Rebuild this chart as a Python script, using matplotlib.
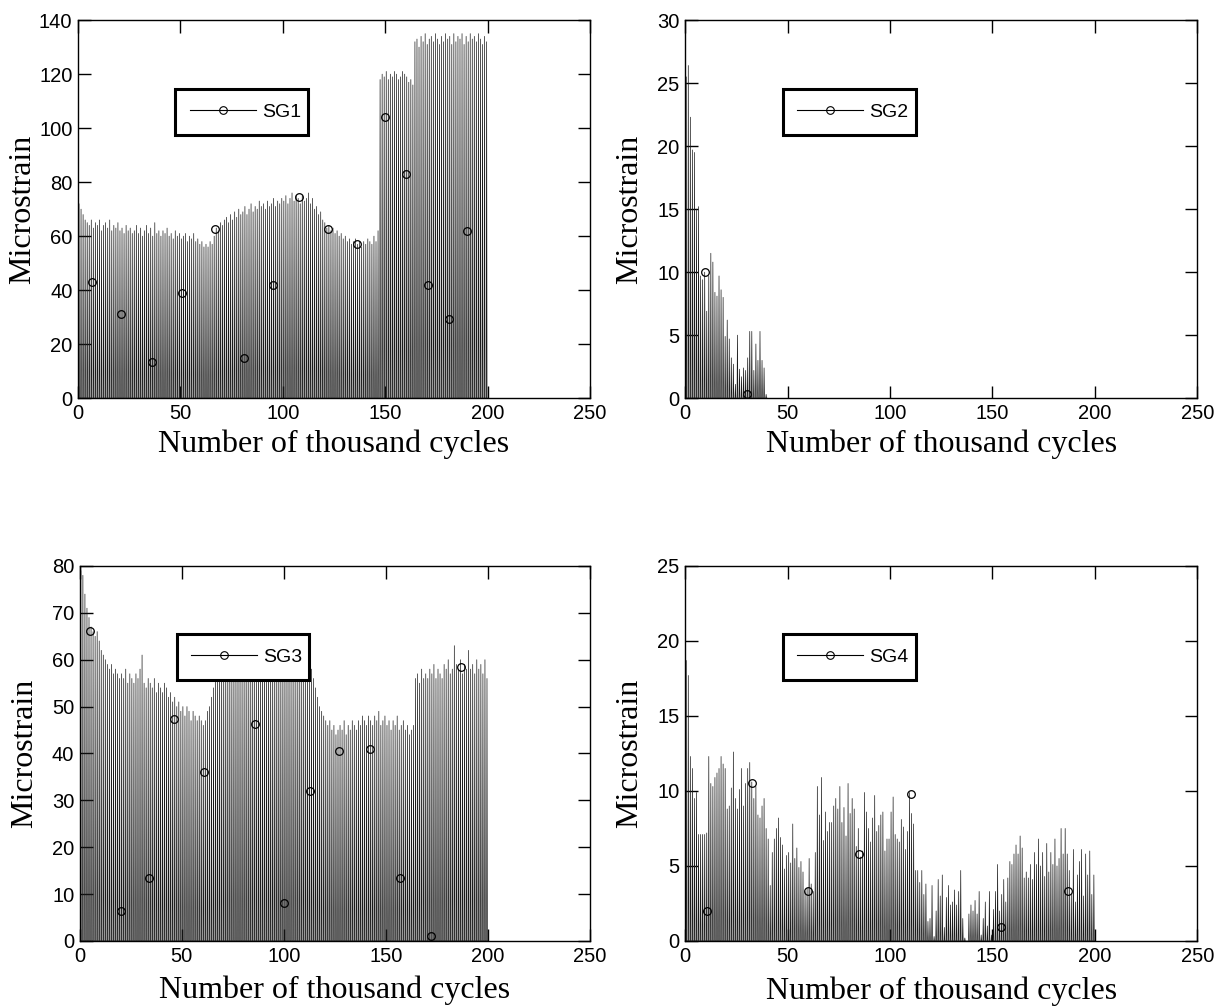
# Strain gauge readings vs load cycles (SG1-SG4)

import numpy as np
import matplotlib
matplotlib.use('Agg')
import matplotlib.pyplot as plt
from matplotlib.lines import Line2D

# Peak microstrain of each thousand-cycle block (the trace drops back to 0 between peaks)

sg1_peaks = [72, 70, 68, 66, 65, 64, 66, 63, 65, 64, 66, 62, 64, 65, 63, 66, 62, 64, 63, 65,
             62, 63, 61, 64, 62, 63, 61, 62, 64, 61, 63, 60, 62, 64, 61, 63, 60, 65, 61, 62,
             60, 62, 61, 63, 60, 61, 59, 62, 60, 61, 59, 60, 61, 58, 60, 59, 61, 58, 59, 57,
             58, 56, 57, 56, 58, 57, 60, 63, 62, 65, 64, 66, 67, 65, 68, 66, 69, 67, 70, 68,
             69, 71, 68, 70, 72, 69, 71, 70, 73, 71, 72, 70, 73, 71, 72, 74, 71, 73, 72, 74,
             73, 75, 72, 74, 76, 73, 75, 74, 72, 75, 73, 74, 76, 72, 74, 70, 71, 68, 69, 66,
             65, 63, 64, 62, 63, 61, 62, 60, 61, 59, 60, 58, 59, 57, 58, 59, 57, 58, 56, 58,
             57, 59, 58, 57, 60, 58, 62, 118, 120, 119, 121, 118, 120, 119, 121, 120, 118, 119, 121, 120,
             119, 117, 118, 116, 132, 133, 130, 134, 132, 135, 131, 133, 134, 132, 135, 133, 131, 134, 132, 135,
             133, 134, 131, 135, 132, 134, 133, 135, 131, 134, 132, 135, 133, 134, 132, 135, 133, 131, 134, 132]

sg2_peaks = [25.5, 26.4, 22.3, 19.7, 19.5, 15.0, 15.2, 9.7, 9.4, 10.0,
             6.9, 9.7, 11.5, 10.8, 8.4, 8.1, 9.7, 8.6, 8.0, 4.9,
             6.2, 4.7, 3.2, 2.7, 1.1, 5.0, 2.3, 1.7, 2.4, 2.2,
             3.2, 5.3, 5.3, 2.2, 4.3, 3.0, 5.3, 3.0, 2.4, 0.3]

sg3_peaks = [79, 78, 74, 71, 69, 67, 66, 65, 66, 64, 62, 61, 60, 59, 58, 59, 57, 58, 57, 56,
             57, 56, 58, 55, 57, 56, 55, 57, 56, 58, 61, 55, 54, 56, 55, 54, 56, 53, 55, 54,
             53, 55, 54, 52, 53, 51, 52, 50, 51, 49, 50, 48, 50, 49, 47, 49, 48, 47, 48, 47,
             46, 47, 49, 50, 52, 54, 56, 57, 58, 59, 58, 60, 59, 61, 58, 60, 59, 61, 60, 58,
             59, 61, 60, 59, 61, 60, 58, 61, 59, 60, 62, 59, 61, 60, 59, 62, 60, 61, 59, 60,
             61, 60, 62, 59, 61, 60, 59, 61, 60, 58, 59, 60, 57, 58, 56, 54, 52, 50, 49, 48,
             47, 46, 47, 45, 46, 44, 45, 46, 45, 47, 44, 46, 45, 47, 46, 45, 47, 46, 48, 47,
             46, 48, 47, 46, 48, 47, 49, 46, 47, 48, 46, 47, 45, 47, 46, 48, 45, 46, 47, 45,
             46, 44, 45, 46, 56, 57, 55, 58, 56, 57, 56, 58, 57, 59, 56, 58, 57, 56, 59, 58,
             60, 57, 58, 63, 59, 58, 60, 57, 59, 58, 62, 58, 59, 57, 60, 58, 59, 57, 60, 56]

sg4_peaks = [18.7, 17.7, 12.3, 11.5, 9.5, 9.9, 7.1, 7.1, 7.1, 7.1,
             7.2, 12.3, 10.5, 10.3, 10.9, 11.2, 11.5, 12.3, 11.8, 11.5,
             8.8, 9.0, 10.2, 12.6, 9.5, 8.8, 10.1, 11.5, 9.0, 10.5,
             11.5, 11.9, 10.6, 9.5, 10.3, 8.4, 8.2, 9.0, 9.5, 7.5,
             6.8, 3.7, 5.9, 6.8, 7.5, 8.2, 6.9, 6.4, 4.8, 5.7,
             5.9, 5.2, 7.8, 5.5, 6.2, 4.9, 5.3, 4.6, 3.3, 3.5,
             5.5, 3.8, 3.3, 5.9, 10.3, 8.4, 10.9, 6.7, 8.6, 7.3,
             7.9, 7.9, 9.0, 9.5, 8.8, 10.3, 7.9, 8.9, 7.0, 10.5,
             8.5, 9.5, 8.8, 6.3, 7.5, 5.6, 6.0, 9.9, 8.6, 7.5,
             6.6, 8.2, 9.7, 7.3, 7.7, 8.4, 8.6, 6.0, 6.8, 6.8,
             8.6, 9.6, 7.1, 6.8, 6.6, 8.1, 7.6, 6.1, 7.3, 9.9,
             8.5, 7.8, 4.7, 4.7, 3.9, 4.7, 3.1, 3.8, 1.3, 1.5,
             3.7, 0.3, 2.0, 4.1, 3.0, 4.4, 0.9, 2.9, 3.7, 2.4,
             2.6, 3.4, 2.4, 3.3, 4.7, 1.5, 0.2, 0.0, 1.8, 2.4,
             2.0, 2.7, 1.8, 3.3, 0.4, 1.5, 2.6, 1.0, 3.3, 0.4,
             2.1, 3.3, 5.1, 2.0, 3.1, 4.1, 2.6, 4.2, 5.3, 5.1,
             5.8, 6.4, 5.8, 7.0, 6.2, 4.2, 4.6, 4.2, 5.1, 4.1,
             5.9, 5.1, 6.8, 5.0, 5.9, 4.3, 6.5, 4.6, 5.9, 5.1,
             6.8, 5.0, 5.5, 7.5, 5.8, 7.5, 5.8, 4.7, 3.1, 6.1,
             2.6, 4.4, 5.3, 6.1, 3.0, 5.8, 4.4, 6.0, 3.1, 4.4]

# sampled points that carry the circle markers
sg1_mark_x = [7, 21, 36, 51, 67, 81, 95, 108, 122, 136, 150, 160, 171, 181, 190]
sg1_mark_y = [43, 31, 13.5, 39, 62.5, 15, 42, 74.5, 62.5, 57, 104, 83, 42, 29.5, 62]
sg2_mark_x = [9.5, 30.4]
sg2_mark_y = [10.0, 0.3]
sg3_mark_x = [5.2, 20, 34, 46, 61, 86, 100, 113, 127, 142, 157, 172, 187]
sg3_mark_y = [66.2, 6.5, 13.5, 47.3, 36, 46.3, 8, 32, 40.5, 41, 13.5, 1, 58.5]
sg4_mark_x = [10.4, 32.5, 59.7, 84.7, 110, 154, 187]
sg4_mark_y = [2.0, 10.5, 3.3, 5.8, 9.8, 0.95, 3.3]

names = ['SG1', 'SG2', 'SG3', 'SG4']
y_max = [140, 30, 80, 25]
y_step = [20, 5, 10, 5]
x_ticks = [0, 50, 100, 150, 200, 250]


def stems(peaks):
    # each thousand-cycle block: a narrow rise to the peak and back to 0
    n = len(peaks)
    i = np.arange(n)
    x = np.column_stack([i + 0.3, i + 0.5, i + 0.7]).ravel()
    y = np.column_stack([np.zeros(n), peaks, np.zeros(n)]).ravel()
    return np.r_[0, x, n], np.r_[0, y, 0]


fig = plt.figure(figsize=(12.28, 10.08), dpi=100)

rects = [
    [0.0635, 0.605, 0.417, 0.375],
    [0.558, 0.605, 0.417, 0.375],
    [0.065, 0.0665, 0.4155, 0.372],
    [0.558, 0.0665, 0.417, 0.372],
]
xlab_pad = [5, 5, 7, 8]
all_peaks = [sg1_peaks, sg2_peaks, sg3_peaks, sg4_peaks]
all_mx = [sg1_mark_x, sg2_mark_x, sg3_mark_x, sg4_mark_x]
all_my = [sg1_mark_y, sg2_mark_y, sg3_mark_y, sg4_mark_y]

for k in range(4):
    ax = fig.add_axes(rects[k])
    x, y = stems(all_peaks[k])
    ax.plot(x, y, color='#1a1a1a', linewidth=0.5)
    ax.plot(all_mx[k], all_my[k], 'o', mfc='none', mec='k', ms=5.5, mew=0.9)

    ax.set_xlim(0, 250)
    ax.set_ylim(0, y_max[k])
    ax.set_xticks(x_ticks)
    ax.set_yticks(np.arange(0, y_max[k] + 1, y_step[k]))
    ax.tick_params(direction='in', top=True, right=True, length=9, width=1,
                   labelsize=14.5, pad=4)
    for t in ax.get_xticklabels() + ax.get_yticklabels():
        t.set_family('Liberation Sans')
    for s in ax.spines.values():
        s.set_linewidth(1)

    ax.set_xlabel('Number of thousand cycles', family='Liberation Serif',
                  fontsize=23, labelpad=xlab_pad[k])
    ax.set_ylabel('Microstrain', family='Liberation Serif', fontsize=23)
    ax.yaxis.set_label_coords(-0.08, 0.5)

    h = Line2D([], [], color='k', linewidth=0.8, marker='o', mfc='none',
               mec='k', ms=5.5, mew=0.8)
    leg = ax.legend([h], [names[k]], loc='lower left',
                    bbox_to_anchor=(0.19, 0.695, 0.26, 0.115), mode='expand',
                    borderaxespad=0, fancybox=False, framealpha=1,
                    edgecolor='k', handlelength=3.4, handletextpad=0.3,
                    borderpad=0.75, prop={'family': 'Liberation Sans', 'size': 14})
    leg.get_frame().set_linewidth(2.2)

fig.savefig('out.png', dpi=100)
